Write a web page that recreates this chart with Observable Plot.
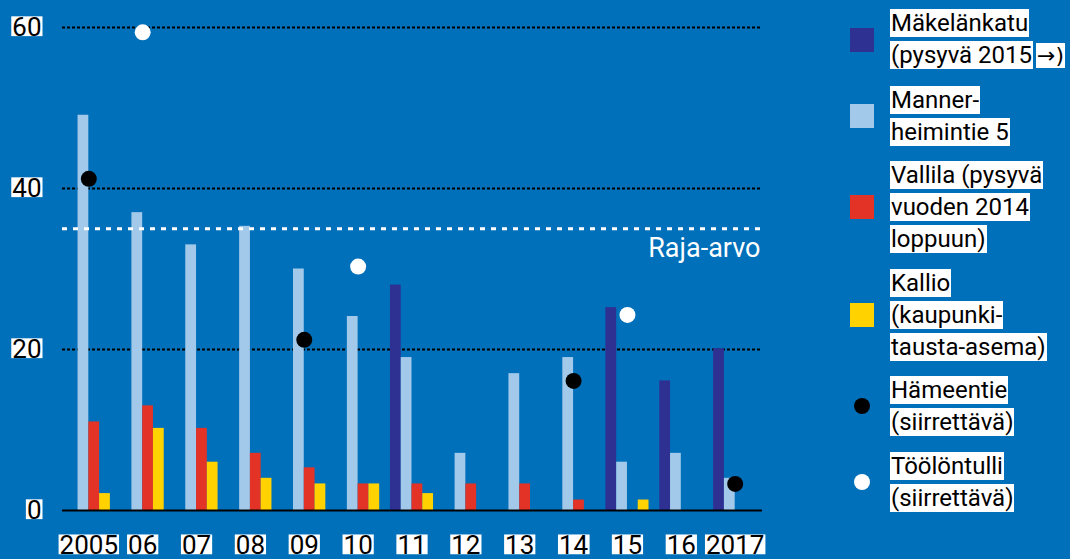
<!DOCTYPE html>
<html>
<head>
<meta charset="utf-8">
<script src="https://cdn.jsdelivr.net/npm/d3@7"></script>
<script src="https://cdn.jsdelivr.net/npm/@observablehq/plot@0.6"></script>
<style>
  html, body { margin: 0; padding: 0; background: #0070BA; }
  #wrap { position: relative; width: 1070px; height: 559px; overflow: hidden; font-family: Roboto, sans-serif; }
  #legend { position: absolute; left: 850px; top: 7px; }
  .entry { display: flex; align-items: center; margin-bottom: 11.5px; }
  .key { width: 24px; height: 24px; flex: none; display: flex; align-items: center; justify-content: center; }
  .key .dot { width: 16px; height: 16px; border-radius: 50%; }
  .txt { margin-left: 16px; font-size: 24px; line-height: 32px; color: #000; white-space: nowrap; }
  .txt span { background: #fff; padding: 0 1px; }
  .txt span.arrow { font-family: "DejaVu Sans", sans-serif; font-size: 22px; margin-left: 3px; }
</style>
</head>
<body>
<div id="wrap"><div id="legend"></div></div>
<script>
// ---- data ----
const years = ["2005","2006","2007","2008","2009","2010","2011","2012","2013","2014","2015","2016","2017"];
const yearLabels = ["2005","06","07","08","09","10","11","12","13","14","15","16","2017"];
const makelankatu     = [null, null, null, null, null, null, 28.0, null, null, null, 25.2, 16.1, 20.1];
const mannerheimintie = [49.1, 37.0, 33.0, 35.3, 30.0, 24.1, 19.0, 7.1, 17.0, 19.0, 6.0, 7.1, 4.0];
const vallila         = [11.0, 13.0, 10.2, 7.1, 5.3, 3.3, 3.3, 3.3, 3.3, 1.3, null, null, null];
const kallio          = [2.1, 10.2, 6.0, 4.0, 3.3, 3.3, 2.1, null, null, null, 1.3, null, null];
const hameentie       = [41.2, null, null, null, 21.2, null, null, null, null, 16.1, null, null, 3.3];
const toolontulli     = [null, 59.4, null, null, null, 30.3, null, null, null, null, 24.3, null, null];
const yTicks = [0, 20, 40, 60];
const gridTicks = [20, 40, 60];
const limitValue = [35];
const limitLabel = ["Raja-arvo"];
const seriesNames = ["Mäkelänkatu", "Mannerheimintie 5", "Vallila", "Kallio"];
const seriesColors = ["#2E3092", "#A2C8EA", "#E33326", "#FFD200"];
const legendItems = [
  {type: "square", color: "#2E3092", lines: ["Mäkelänkatu", "(pysyvä 2015|→)"]},
  {type: "square", color: "#A2C8EA", lines: ["Manner-", "heimintie 5"]},
  {type: "square", color: "#E33326", lines: ["Vallila (pysyvä", "vuoden 2014", "loppuun)"]},
  {type: "square", color: "#FFD200", lines: ["Kallio", "(kaupunki-", "tausta-asema)"]},
  {type: "dot", color: "#000000", lines: ["Hämeentie", "(siirrettävä)"]},
  {type: "dot", color: "#FFFFFF", lines: ["Töölöntulli", "(siirrettävä)"]}
];

// ---- tables ----
const seriesValues = [makelankatu, mannerheimintie, vallila, kallio];
const barTables = seriesValues.map(vals =>
  years.map((y, i) => ({year: y, value: vals[i]})).filter(d => d.value != null));
const dotTable = (vals) => years.map((y, i) => ({year: y, value: vals[i]})).filter(d => d.value != null);

const W = 1070, H = 559, mL = 62, mR = 308, mT = 27, mB = 49;
const pad = 0.2;
const xRange = [56, 767];
const step = (xRange[1] - xRange[0]) / (years.length - pad + 2 * pad);
const bw = step * (1 - pad);
const sub = bw / 4;

const barMarks = barTables.map((tbl, k) => Plot.barY(tbl, {
  x: "year", y: "value", fill: seriesColors[k],
  insetLeft: k * sub, insetRight: (3 - k) * sub
}));

const chart = Plot.plot({
  width: W, height: H,
  marginLeft: mL, marginRight: mR, marginTop: mT, marginBottom: mB,
  style: {background: "transparent", fontFamily: "Roboto, sans-serif", fontSize: "26px", color: "#000", overflow: "visible"},
  x: {domain: years, padding: pad, range: xRange, round: false, tickSize: 0, tickPadding: 25,
      tickFormat: d => yearLabels[years.indexOf(d)], label: null},
  y: {domain: [0, 60], ticks: yTicks, tickSize: 0, tickPadding: 21, label: null},
  marks: [
    Plot.ruleY(gridTicks, {stroke: "#000", strokeWidth: 2, strokeDasharray: "3,2"}),
    ...barMarks,
    Plot.ruleY([0], {stroke: "#000", strokeWidth: 2}),
    Plot.ruleY(limitValue, {stroke: "#fff", strokeWidth: 3, strokeDasharray: "5,6"}),
    Plot.text(limitLabel, {frameAnchor: "right", y: () => limitValue[0], text: d => d, textAnchor: "end",
      dx: -2, dy: 20, fill: "#fff", fontSize: 27}),
    Plot.dot(dotTable(hameentie), {x: "year", y: "value", r: 8, fill: "#000", stroke: "none"}),
    Plot.dot(dotTable(toolontulli), {x: "year", y: "value", r: 8, fill: "#fff", stroke: "none"})
  ]
});

const wrap = document.getElementById("wrap");
wrap.insertBefore(chart, wrap.firstChild);

// white boxes behind axis tick labels
chart.querySelectorAll("text").forEach(t => {
  if (t.textContent === limitLabel[0]) return;
  const bb = t.getBBox();
  if (!bb.width) return;
  const r = document.createElementNS("http://www.w3.org/2000/svg", "rect");
  const h = bb.height;
  r.setAttribute("x", bb.x - 1);
  r.setAttribute("width", bb.width + 2);
  r.setAttribute("y", bb.y + 0.15 * h);
  r.setAttribute("height", 0.66 * h);
  r.setAttribute("fill", "#fff");
  r.setAttribute("stroke", "none");
  if (t.getAttribute("transform")) r.setAttribute("transform", t.getAttribute("transform"));
  t.parentNode.insertBefore(r, t);
});

// legend
const legend = document.getElementById("legend");
legendItems.forEach(item => {
  const e = document.createElement("div");
  e.className = "entry";
  const key = document.createElement("div");
  key.className = "key";
  if (item.type === "square") key.style.background = item.color;
  else { const d = document.createElement("div"); d.className = "dot"; d.style.background = item.color; key.appendChild(d); }
  const txt = document.createElement("div");
  txt.className = "txt";
  txt.innerHTML = item.lines.map(l => {
    const parts = l.split("|");
    return parts.length > 1 ? `<span>${parts[0]}</span><span class="arrow">${parts[1]}</span>` : `<span>${l}</span>`;
  }).join("<br>");
  e.appendChild(key); e.appendChild(txt);
  legend.appendChild(e);
});
</script>
</body>
</html>
